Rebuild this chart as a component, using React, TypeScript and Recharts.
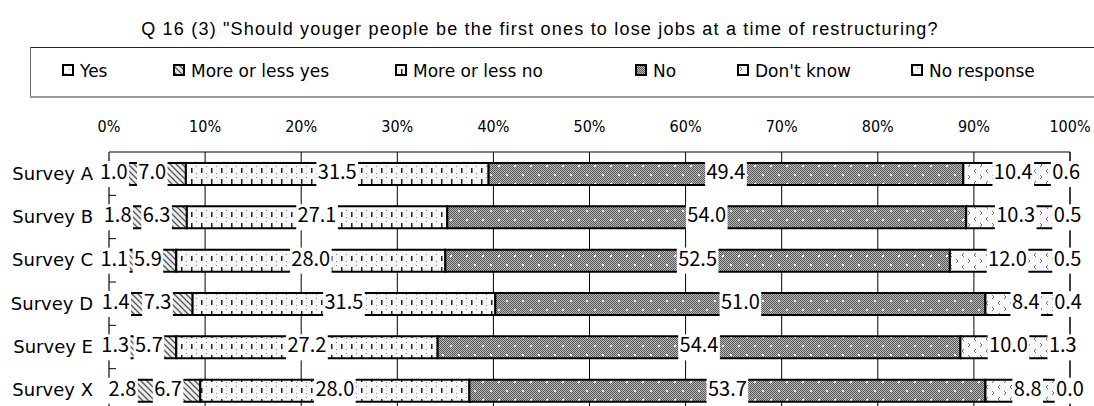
import { Bar, BarChart, CartesianGrid, LabelList, XAxis, YAxis } from 'recharts'

const categories = ['Survey A', 'Survey B', 'Survey C', 'Survey D', 'Survey E', 'Survey X']
const yes = [1.0, 1.8, 1.1, 1.4, 1.3, 2.8]
const moreOrLessYes = [7.0, 6.3, 5.9, 7.3, 5.7, 6.7]
const moreOrLessNo = [31.5, 27.1, 28.0, 31.5, 27.2, 28.0]
const no = [49.4, 54.0, 52.5, 51.0, 54.4, 53.7]
const dontKnow = [10.4, 10.3, 12.0, 8.4, 10.0, 8.8]
const noResponse = [0.6, 0.5, 0.5, 0.4, 1.3, 0.0]
const seriesNames = ['Yes', 'More or less yes', 'More or less no', 'No', "Don't know", 'No response']
const percentTicks = [0, 10, 20, 30, 40, 50, 60, 70, 80, 90, 100]
const title = 'Q 16 (3) "Should youger people be the first ones to lose jobs at a time of restructuring?'

const seriesKeys = ['yes', 'mly', 'mln', 'no', 'dk', 'nr']
const seriesValues = [yes, moreOrLessYes, moreOrLessNo, no, dontKnow, noResponse]

const data = categories.map((name, i) => {
  const row: Record<string, string | number> = { name }
  seriesKeys.forEach((k, s) => {
    row[k] = seriesValues[s][i]
  })
  return row
})

// legend swatch left edges, as in the original layout
const legendX = [62, 173, 395, 635, 737, 911]

const W = 1094
const H = 416
const PLOT_LEFT = 109
const PLOT_TOP = 152
const PLOT_BOTTOM = 4
const BAND = (H - PLOT_TOP - PLOT_BOTTOM) / categories.length

const labelFont = '"Noto Sans CJK JP", sans-serif'
const textFont = '"DejaVu Sans", sans-serif'

const charW = (c: string) => (c === '.' ? 0.276 : 0.552)
const textWidth = (s: string, fs: number) => [...s].reduce((w, c) => w + charW(c) * fs, 0)

function Patterns() {
  return (
    <defs>
      <pattern id="p-yes" width="8" height="8" patternUnits="userSpaceOnUse">
        <rect width="8" height="8" fill="#fff" />
        <rect x="1" y="1" width="1" height="1" fill="#999" />
        <rect x="5" y="5" width="1" height="1" fill="#999" />
      </pattern>
      <pattern id="p-mly" width="6" height="6" patternUnits="userSpaceOnUse">
        <rect width="6" height="6" fill="#eeeeee" />
        <path d="M0,0 L6,6 M-3,3 L3,9 M3,-3 L9,3" stroke="#555" strokeWidth="1.3" />
      </pattern>
      <pattern id="p-mln" width="10" height="11" patternUnits="userSpaceOnUse">
        <rect width="10" height="11" fill="#f6f6f6" />
        <rect x="1" y="3" width="1.5" height="5" fill="#222" />
        <rect x="6" y="1" width="1" height="1" fill="#888" />
        <rect x="6" y="8" width="1" height="1" fill="#888" />
      </pattern>
      <pattern id="p-check" width="2" height="2" patternUnits="userSpaceOnUse">
        <rect width="2" height="2" fill="#b8b8b8" />
        <rect width="1" height="1" fill="#585858" />
        <rect x="1" y="1" width="1" height="1" fill="#585858" />
      </pattern>
      <pattern id="p-no" width="16" height="18" patternUnits="userSpaceOnUse">
        <rect width="16" height="18" fill="url(#p-check)" />
        <rect x="2" y="3" width="2" height="2" fill="#fff" />
        <rect x="10" y="12" width="2" height="2" fill="#fff" />
      </pattern>
      <pattern id="p-dk" width="12" height="12" patternUnits="userSpaceOnUse">
        <rect width="12" height="12" fill="#f7f7f7" />
        <path d="M4,1 L2,3 L4,5 M8,7 L10,9 L8,11" stroke="#777" strokeWidth="1" fill="none" />
      </pattern>
      <pattern id="p-nr" width="10" height="10" patternUnits="userSpaceOnUse">
        <rect width="10" height="10" fill="#f7f7f7" />
        <rect x="2" y="2" width="1.5" height="1.5" fill="#888" />
        <rect x="7" y="7" width="1.5" height="1.5" fill="#aaa" />
      </pattern>
    </defs>
  )
}

const fills = ['url(#p-yes)', 'url(#p-mly)', 'url(#p-mln)', 'url(#p-no)', 'url(#p-dk)', 'url(#p-nr)']

function ValueLabel(props: any) {
  const vb = props.viewBox ?? props
  const x = Number(vb.x ?? props.x)
  const y = Number(vb.y ?? props.y)
  const width = Number(vb.width ?? props.width ?? 0)
  const height = Number(vb.height ?? props.height)
  const value = Number(props.value)
  const text = value.toFixed(1)
  const w = textWidth(text, 20) + 3
  // zero-size segments keep their label at the segment's start
  const cx = value === 0 ? x : x + width / 2
  const cy = y + height / 2
  return (
    <g>
      <rect x={cx - w / 2} y={cy - 13} width={w} height={26} fill="#fff" />
      <text x={cx} y={cy + 5} textAnchor="middle" fontFamily={labelFont} fontSize={20} fill="#000">
        {text}
      </text>
    </g>
  )
}

function CategoryTick(props: any) {
  const { x, y, payload, index } = props
  return (
    <g>
      {index > 0 && (
        <line x1={PLOT_LEFT} x2={PLOT_LEFT + 7} y1={y - BAND / 2} y2={y - BAND / 2} stroke="#000" />
      )}
      <text x={x} y={y + 6} textAnchor="end" fontFamily={textFont} fontSize={18} fill="#000">
        {payload.value}
      </text>
    </g>
  )
}

function Header() {
  return (
    <g>
      <text
        x={540}
        y={35}
        textAnchor="middle"
        fontFamily='"Liberation Sans", Arial, sans-serif'
        fontSize={18}
        letterSpacing={1.2}
        fill="#000"
      >
        {title}
      </text>
      <line x1={30} x2={W} y1={47.5} y2={47.5} stroke="#222" />
      <line x1={30.5} x2={30.5} y1={47} y2={97} stroke="#666" />
      <line x1={30} x2={W} y1={97} y2={97} stroke="#999" strokeWidth={2} />
      {seriesNames.map((name, i) => (
        <g key={name}>
          <rect x={legendX[i] + 1} y={65} width={10} height={10} fill={fills[i]} stroke="#000" strokeWidth={2} />
          <text x={legendX[i] + 18} y={77} fontFamily={textFont} fontSize={17} fill="#000">
            {name}
          </text>
        </g>
      ))}
    </g>
  )
}

export default function App() {
  return (
    <div style={{ position: 'absolute', left: 0, top: 0, width: W, height: 406, overflow: 'hidden', background: '#fff' }}>
      <BarChart
        width={W}
        height={H}
        layout="vertical"
        data={data}
        barSize={22}
        margin={{ top: PLOT_TOP - 30, right: 24, bottom: PLOT_BOTTOM, left: 0 }}
      >
        <Patterns />
        <Header />
        <CartesianGrid horizontal={false} vertical stroke="#000" />
        <XAxis
          type="number"
          orientation="top"
          domain={[0, 100]}
          ticks={percentTicks}
          tickFormatter={(v) => `${v}%`}
          height={30}
          tickLine={false}
          tickSize={0}
          tickMargin={20}
          axisLine={{ stroke: '#000' }}
          tick={{ fontFamily: '"DejaVu Sans Condensed", sans-serif', fontSize: 16, fill: '#000' }}
          interval={0}
        />
        <YAxis
          type="category"
          dataKey="name"
          width={PLOT_LEFT}
          tickLine={false}
          tickSize={0}
          tickMargin={16}
          axisLine={{ stroke: '#555' }}
          tick={<CategoryTick />}
          interval={0}
        />
        {seriesKeys.map((k, i) => (
          <Bar
            key={k}
            dataKey={k}
            name={seriesNames[i]}
            stackId="a"
            fill={fills[i]}
            stroke="#000"
            strokeWidth={2}
            minPointSize={k === 'nr' ? 1 : 0}
            isAnimationActive={false}
          >
            <LabelList dataKey={k} content={<ValueLabel />} />
          </Bar>
        ))}
      </BarChart>
    </div>
  )
}
